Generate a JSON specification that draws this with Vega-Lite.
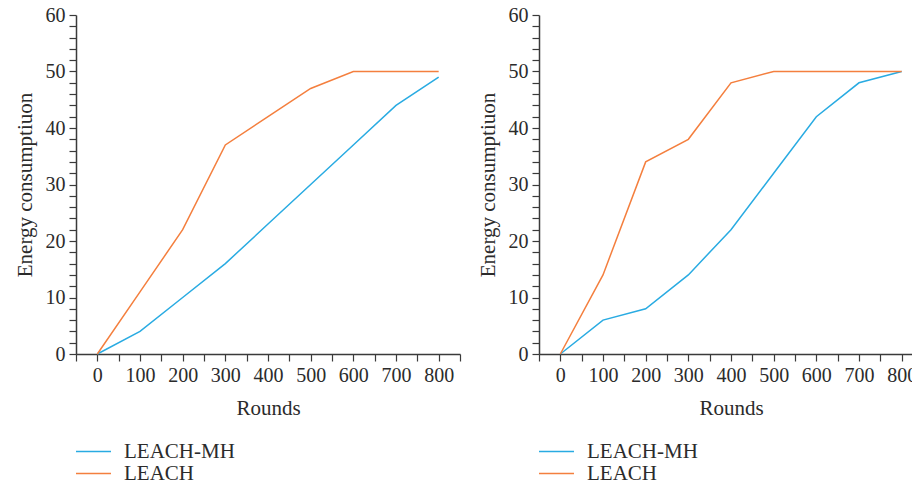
{
  "$schema": "https://vega.github.io/schema/vega-lite/v6.json",
  "padding": {"left": 14, "top": 5, "right": 0, "bottom": 0},
  "background": "white",
  "datasets": {
    "left": [
      {"round": 0, "energy": 0, "protocol": "LEACH-MH"},
      {"round": 100, "energy": 4, "protocol": "LEACH-MH"},
      {"round": 200, "energy": 10, "protocol": "LEACH-MH"},
      {"round": 300, "energy": 16, "protocol": "LEACH-MH"},
      {"round": 400, "energy": 23, "protocol": "LEACH-MH"},
      {"round": 500, "energy": 30, "protocol": "LEACH-MH"},
      {"round": 600, "energy": 37, "protocol": "LEACH-MH"},
      {"round": 700, "energy": 44, "protocol": "LEACH-MH"},
      {"round": 800, "energy": 49, "protocol": "LEACH-MH"},
      {"round": 0, "energy": 0, "protocol": "LEACH"},
      {"round": 100, "energy": 11, "protocol": "LEACH"},
      {"round": 200, "energy": 22, "protocol": "LEACH"},
      {"round": 300, "energy": 37, "protocol": "LEACH"},
      {"round": 400, "energy": 42, "protocol": "LEACH"},
      {"round": 500, "energy": 47, "protocol": "LEACH"},
      {"round": 600, "energy": 50, "protocol": "LEACH"},
      {"round": 700, "energy": 50, "protocol": "LEACH"},
      {"round": 800, "energy": 50, "protocol": "LEACH"}
    ],
    "right": [
      {"round": 0, "energy": 0, "protocol": "LEACH-MH"},
      {"round": 100, "energy": 6, "protocol": "LEACH-MH"},
      {"round": 200, "energy": 8, "protocol": "LEACH-MH"},
      {"round": 300, "energy": 14, "protocol": "LEACH-MH"},
      {"round": 400, "energy": 22, "protocol": "LEACH-MH"},
      {"round": 500, "energy": 32, "protocol": "LEACH-MH"},
      {"round": 600, "energy": 42, "protocol": "LEACH-MH"},
      {"round": 700, "energy": 48, "protocol": "LEACH-MH"},
      {"round": 800, "energy": 50, "protocol": "LEACH-MH"},
      {"round": 0, "energy": 0, "protocol": "LEACH"},
      {"round": 100, "energy": 14, "protocol": "LEACH"},
      {"round": 200, "energy": 34, "protocol": "LEACH"},
      {"round": 300, "energy": 38, "protocol": "LEACH"},
      {"round": 400, "energy": 48, "protocol": "LEACH"},
      {"round": 500, "energy": 50, "protocol": "LEACH"},
      {"round": 600, "energy": 50, "protocol": "LEACH"},
      {"round": 700, "energy": 50, "protocol": "LEACH"},
      {"round": 800, "energy": 50, "protocol": "LEACH"}
    ]
  },
  "config": {
    "font": "Liberation Serif",
    "view": {"stroke": null},
    "axis": {
      "grid": false,
      "domainColor": "#3a3a3a",
      "domainWidth": 1.5,
      "tickColor": "#3a3a3a",
      "tickWidth": 1.2,
      "tickSize": 7,
      "labelFont": "Liberation Serif",
      "labelFontSize": 20,
      "labelColor": "#2b2b2b",
      "labelPadding": 4,
      "titleFont": "Liberation Serif",
      "titleFontSize": 21,
      "titleFontWeight": "normal",
      "titleColor": "#2b2b2b"
    },
    "legend": {
      "orient": "none",
      "legendX": 7,
      "legendY": 426,
      "title": null,
      "symbolType": "M-2,0H2",
      "symbolSize": 306,
      "symbolStrokeWidth": 1.5,
      "labelFont": "Liberation Serif",
      "labelFontSize": 21,
      "labelColor": "#2b2b2b",
      "labelOffset": 20,
      "rowPadding": 0,
      "padding": 0
    },
    "concat": {"spacing": 16}
  },
  "resolve": {"scale": {"color": "independent"}, "legend": {"color": "independent"}},
  "hconcat": [
    {
      "width": 384,
      "height": 339,
      "data": {"name": "left"},
      "mark": {"type": "line", "strokeWidth": 1.5, "clip": false},
      "encoding": {
        "x": {"field": "round", "type": "quantitative", "title": "Rounds",
          "scale": {"domain": [-50, 850], "nice": false, "zero": false},
          "axis": {"values": [-50, 0, 50, 100, 150, 200, 250, 300, 350, 400, 450, 500, 550, 600, 650, 700, 750, 800, 850],
            "labelExpr": "datum.value >= 0 && datum.value <= 800 && datum.value % 100 == 0 ? datum.value : ''",
            "labelFlush": false, "labelOverlap": false, "titlePadding": 12}},
        "y": {"field": "energy", "type": "quantitative", "title": "Energy consumptiuon",
          "scale": {"domain": [0, 60], "nice": false},
          "axis": {"values": [0, 2, 4, 6, 8, 10, 12, 14, 16, 18, 20, 22, 24, 26, 28, 30, 32, 34, 36, 38, 40, 42, 44, 46, 48, 50, 52, 54, 56, 58, 60],
            "labelExpr": "datum.value % 10 == 0 ? datum.value : ''",
            "labelOverlap": false, "labelFlush": false, "titlePadding": 10}},
        "color": {"field": "protocol", "type": "nominal",
          "scale": {"domain": ["LEACH-MH", "LEACH"], "range": ["#29abe2", "#f47f3e"]}}
      }
    },
    {
      "width": 384,
      "height": 339,
      "data": {"name": "right"},
      "mark": {"type": "line", "strokeWidth": 1.5, "clip": false},
      "encoding": {
        "x": {"field": "round", "type": "quantitative", "title": "Rounds",
          "scale": {"domain": [-50, 850], "nice": false, "zero": false},
          "axis": {"values": [-50, 0, 50, 100, 150, 200, 250, 300, 350, 400, 450, 500, 550, 600, 650, 700, 750, 800, 850],
            "labelExpr": "datum.value >= 0 && datum.value <= 800 && datum.value % 100 == 0 ? datum.value : ''",
            "labelFlush": false, "labelOverlap": false, "titlePadding": 12}},
        "y": {"field": "energy", "type": "quantitative", "title": "Energy consumptiuon",
          "scale": {"domain": [0, 60], "nice": false},
          "axis": {"values": [0, 2, 4, 6, 8, 10, 12, 14, 16, 18, 20, 22, 24, 26, 28, 30, 32, 34, 36, 38, 40, 42, 44, 46, 48, 50, 52, 54, 56, 58, 60],
            "labelExpr": "datum.value % 10 == 0 ? datum.value : ''",
            "labelOverlap": false, "labelFlush": false, "titlePadding": 10}},
        "color": {"field": "protocol", "type": "nominal",
          "scale": {"domain": ["LEACH-MH", "LEACH"], "range": ["#29abe2", "#f47f3e"]}}
      }
    }
  ]
}
